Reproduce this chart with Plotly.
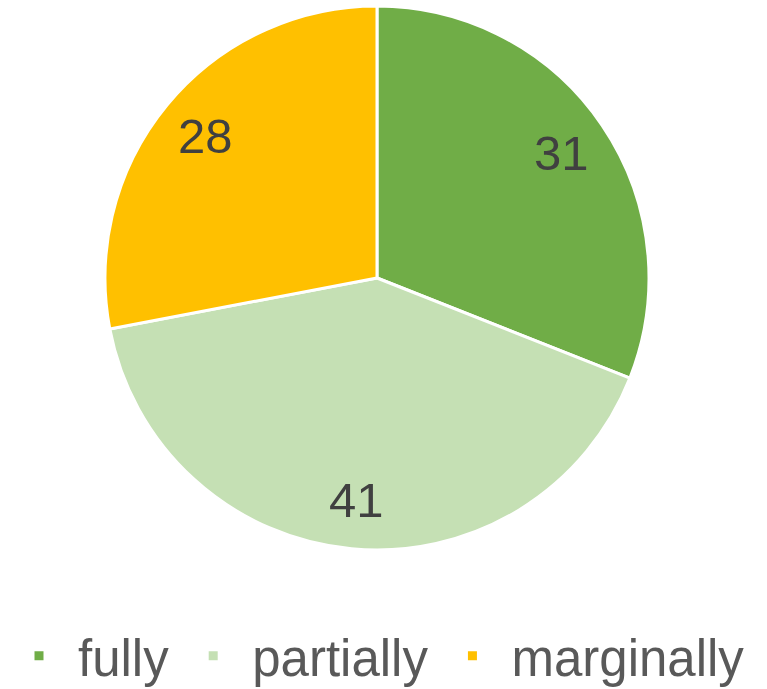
import math
import plotly.graph_objects as go

categories = ["fully", "partially", "marginally"]
values = [31, 41, 28]
colors = ["#70AD47", "#C5E0B4", "#FFC000"]

W, H = 767, 689
T, B = 6, 139
CX = 377            # pie centre (px)
PLOT_H = H - T - B  # 544 -> radius 272
RAD = PLOT_H / 2

fig = go.Figure(go.Pie(
    labels=categories,
    values=values,
    sort=False,
    direction="clockwise",
    rotation=0,
    marker=dict(colors=colors, line=dict(color="#FFFFFF", width=3)),
    textinfo="none",
    hoverinfo="label+value",
    domain=dict(x=[0, 2 * CX / W], y=[0, 1]),
))

# data labels placed along each slice bisector
total = sum(values)
cum = 0
annotations = []
for v in values:
    mid = (cum + v / 2) / total * 2 * math.pi
    cum += v
    f = 0.82
    annotations.append(dict(
        x=(CX + RAD * f * math.sin(mid)) / W,
        y=0.5 + 0.5 * f * math.cos(mid),
        xref="paper", yref="paper",
        text=str(v), showarrow=False,
        font=dict(family="Liberation Sans, Arial, sans-serif", size=49, color="#404040"),
        xanchor="center", yanchor="middle",
    ))

fig.update_layout(
    width=W, height=H,
    margin=dict(l=0, r=0, t=T, b=B, autoexpand=False),
    paper_bgcolor="#FFFFFF",
    plot_bgcolor="#FFFFFF",
    showlegend=True,
    legend=dict(
        orientation="h",
        x=0, xanchor="left",
        y=-(656 - (H - B)) / PLOT_H, yanchor="middle",
        font=dict(family="Liberation Sans, Arial, sans-serif", size=51, color="#595959"),
        itemwidth=68,
        itemclick=False,
    ),
    annotations=annotations,
)

fig.write_html(
    "out.html",
    config={"displayModeBar": False},
    post_script="document.body.style.margin='0';document.body.style.padding='0';",
)
